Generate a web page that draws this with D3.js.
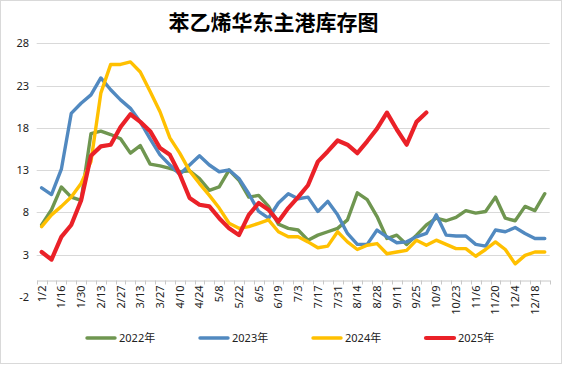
<!DOCTYPE html>
<html><head><meta charset="utf-8">
<script src="https://cdn.jsdelivr.net/npm/d3@7"></script>
<style>html,body{margin:0;padding:0;background:#fff;}svg{display:block;}</style>
</head><body>
<svg id="chart" width="563" height="365"></svg>
<script>
const title = "苯乙烯华东主港库存图";
const categories = ["1/2","1/9","1/16","1/23","1/30","2/6","2/13","2/20","2/27","3/6","3/13","3/20","3/27","4/3","4/10","4/17","4/24","5/1","5/8","5/15","5/22","5/29","6/5","6/12","6/19","6/26","7/3","7/10","7/17","7/24","7/31","8/7","8/14","8/21","8/28","9/4","9/11","9/18","9/25","10/2","10/9","10/16","10/23","10/30","11/6","11/13","11/20","11/27","12/4","12/11","12/18","12/25"];
const yTicks = [-2, 3, 8, 13, 18, 23, 28];
const seriesNames = ["2022年","2023年","2024年","2025年"];
const seriesColors = ["#6f9650","#5189c0","#ffc000","#ea2128"];
const v2022 = [6.5,8.3,11.0,9.8,9.4,17.3,17.6,17.2,16.7,15.0,15.9,13.7,13.5,13.2,12.8,12.9,12.0,10.6,11.0,13.0,11.8,9.8,10.0,8.7,6.6,6.1,5.9,4.7,5.3,5.7,6.1,7.1,10.3,9.5,7.5,4.9,5.3,4.2,5.3,6.5,7.3,7.0,7.4,8.2,7.9,8.1,9.8,7.3,7.0,8.7,8.2,10.2];
const v2023 = [10.9,10.1,13.1,19.7,20.9,21.9,23.9,22.5,21.3,20.3,18.7,16.7,14.8,13.6,12.5,13.6,14.7,13.6,12.8,13.0,12.0,10.2,8.1,7.3,9.1,10.2,9.6,9.8,8.1,9.3,7.7,5.5,4.2,4.2,5.9,5.1,4.4,4.5,5.1,5.5,7.7,5.3,5.2,5.2,4.2,4.0,5.9,5.7,6.2,5.5,4.9,4.9];
const v2024 = [6.3,7.7,8.7,9.8,11.4,14.0,22.1,25.5,25.5,25.8,24.6,22.3,19.9,16.8,15.0,12.9,11.4,10.0,8.5,6.7,6.1,6.3,6.7,7.1,5.7,5.1,5.1,4.5,3.8,4.0,5.7,4.5,3.6,4.1,4.3,3.1,3.3,3.5,4.7,4.1,4.7,4.2,3.7,3.7,2.8,3.6,4.5,3.6,1.9,2.9,3.3,3.3];
const v2025 = [3.3,2.4,5.1,6.5,9.4,14.7,15.8,16.0,18.1,19.6,18.7,17.6,15.6,14.8,12.5,9.7,8.9,8.7,7.3,6.1,5.3,7.7,9.1,8.3,6.9,8.5,9.8,11.2,14.0,15.2,16.5,16.0,15.0,16.4,17.9,19.8,17.8,16.0,18.7,19.8];
const seriesValues = [v2022, v2023, v2024, v2025];

const svg = d3.select("#chart");
const font = "'Noto Sans', 'Noto Sans CJK SC', sans-serif";

// outer border
svg.append("rect").attr("x",0.5).attr("y",0.5).attr("width",561).attr("height",363)
  .attr("fill","#fff").attr("stroke","#d9d9d9");

const x = d3.scaleBand().domain(categories).range([36.7, 549.7]).paddingInner(0).paddingOuter(0);
const y = d3.scaleLinear().domain([-2, 28]).range([296.8, 43.3]);
const cx = c => x(c) + x.bandwidth() / 2;

// title
svg.append("text").attr("x", 273.5).attr("y", 30).attr("text-anchor","middle")
  .attr("font-family","'Noto Sans CJK SC', sans-serif").attr("font-weight","bold")
  .attr("font-size", 21).attr("fill","#000").text(title);

// gridlines
svg.append("g").selectAll("line").data(yTicks.filter(t => t > -2)).join("line")
  .attr("x1", 36.7).attr("x2", 549.7)
  .attr("y1", d => Math.round(y(d)) + 0.5).attr("y2", d => Math.round(y(d)) + 0.5)
  .attr("stroke","#d9d9d9").attr("stroke-width",1);

// y axis labels
const yAxis = svg.append("g").attr("transform","translate(30,0)")
  .call(d3.axisLeft(y).tickValues(yTicks).tickSize(0).tickPadding(1).tickFormat(d => String(d)));
yAxis.select(".domain").remove();
yAxis.selectAll("text").attr("font-family", font).attr("font-size", 11).attr("fill","#222");

// x axis at 0
const y0 = Math.round(y(0)) + 0.5;
const xAxis = svg.append("g").attr("transform", `translate(0,${y0})`)
  .call(d3.axisBottom(x).tickSize(0).tickSizeOuter(0)
    .tickFormat((d, i) => i % 2 === 0 ? d : ""));
xAxis.select(".domain").attr("stroke","#c8c8c8");
xAxis.selectAll("text")
  .attr("transform","rotate(-90)")
  .attr("text-anchor","end")
  .attr("x", -5).attr("y", 0).attr("dy","0.36em")
  .attr("font-family", font).attr("font-size", 11).attr("fill","#222");
// boundary tick marks
svg.append("g").selectAll("line").data(categories.concat(["__end"])).join("line")
  .attr("x1", (d, i) => Math.round(x.range()[0] + i * x.step()) + 0.5)
  .attr("x2", (d, i) => Math.round(x.range()[0] + i * x.step()) + 0.5)
  .attr("y1", y0).attr("y2", y0 + 4)
  .attr("stroke","#c8c8c8");

// lines
const line = d3.line().x((d, i) => cx(categories[i])).y(d => y(d)).curve(d3.curveLinear);
seriesValues.forEach((vals, k) => {
  svg.append("path").datum(vals)
    .attr("d", line)
    .attr("fill","none")
    .attr("stroke", seriesColors[k])
    .attr("stroke-width", k === 3 ? 4.2 : 3.4)
    .attr("stroke-linejoin","round")
    .attr("stroke-linecap","round");
});

// legend
const legendX = [87, 200, 313, 426];
const lg = svg.append("g");
seriesNames.forEach((n, k) => {
  lg.append("line").attr("x1", legendX[k]).attr("x2", legendX[k] + 28)
    .attr("y1", 338).attr("y2", 338)
    .attr("stroke", seriesColors[k]).attr("stroke-width", k === 3 ? 4.2 : 3.4)
    .attr("stroke-linecap","round");
  lg.append("text").attr("x", legendX[k] + 32).attr("y", 338).attr("dy","0.35em")
    .attr("font-family", font).attr("font-size", 11).attr("fill","#222").text(n);
});
</script>
</body></html>
